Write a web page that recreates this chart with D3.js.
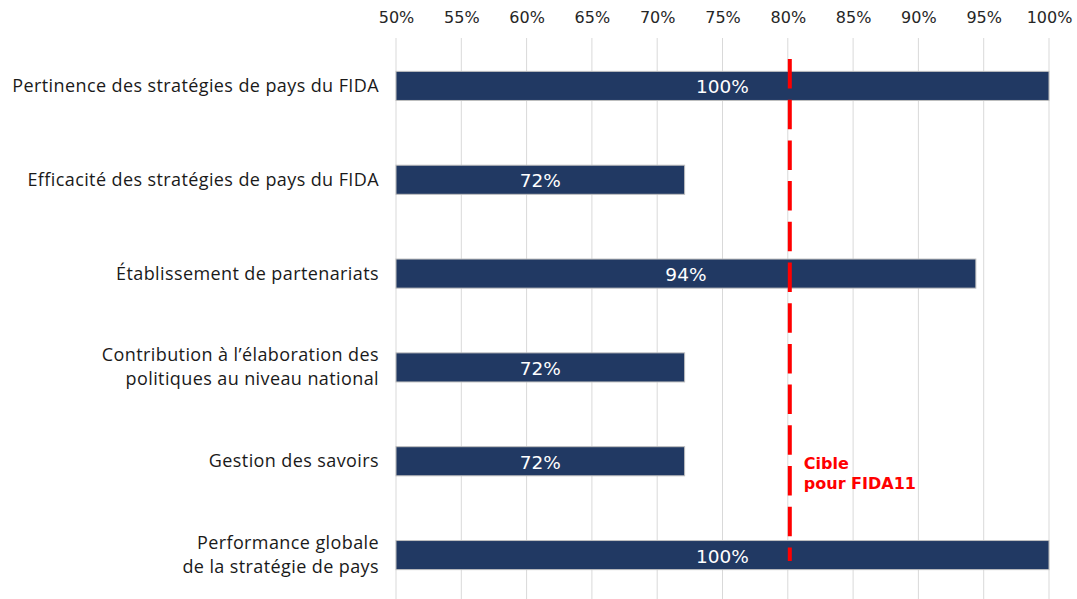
<!DOCTYPE html>
<html>
<head>
<meta charset="utf-8">
<script src="https://cdn.jsdelivr.net/npm/d3@7"></script>
<style>
  body { margin: 0; background: #fff; }
  svg { display: block; }
</style>
</head>
<body>
<svg id="chart"></svg>
<script>
// données
const categories = [
    ["Pertinence des stratégies de pays du FIDA"],
    ["Efficacité des stratégies de pays du FIDA"],
    ["Établissement de partenariats"],
    ["Contribution à l’élaboration des", "politiques au niveau national"],
    ["Gestion des savoirs"],
    ["Performance globale", "de la stratégie de pays"]
]
const values = [1.00, 0.721, 0.944, 0.721, 0.721, 1.00]
const xTicks = [0.5, 0.55, 0.6, 0.65, 0.7, 0.75, 0.8, 0.85, 0.9, 0.95, 1.0]
const target = 0.8
const targetLabel = ["Cible", "pour FIDA11"]

const svgWidth = 1077
const svgHeight = 599
const svg = d3.select("#chart")
    .attr("width", svgWidth)
    .attr("height", svgHeight)

const xScale = d3.scaleLinear()
    .domain([0.5, 1])
    .range([396, 1049])
const yScale = d3.scaleBand()
    .domain(d3.range(categories.length))
    .range([39, 602])
    .paddingInner(0.69)
    .paddingOuter(0.345)

const pct = d3.format(".0%")

// grille verticale
svg.append("g")
    .selectAll("line")
    .data(xTicks)
    .enter()
    .append("line")
    .attr("x1", (d) => xScale(d))
    .attr("x2", (d) => xScale(d))
    .attr("y1", 38)
    .attr("y2", svgHeight)
    .attr("stroke", "#d9d9d9")
    .attr("stroke-width", 1)

// axe du haut
const xAxis = svg.append("g")
    .attr("transform", "translate(0,38)")
    .call(d3.axisTop(xScale).tickValues(xTicks).tickFormat(pct).tickSize(0).tickPadding(15))
xAxis.select(".domain").remove()
xAxis.selectAll("text")
    .attr("font-family", "DejaVu Sans, Verdana, sans-serif")
    .attr("font-size", 16)
    .attr("fill", "#262626")

// barres
svg.append("g")
    .selectAll("rect")
    .data(values)
    .enter()
    .append("rect")
    .attr("x", xScale(0.5))
    .attr("y", (d, i) => yScale(i))
    .attr("width", (d) => xScale(d) - xScale(0.5))
    .attr("height", yScale.bandwidth())
    .attr("fill", "#213963")
    .attr("stroke", "#bfbfbf")
    .attr("stroke-width", 1)

// valeurs dans les barres
svg.append("g")
    .selectAll("text")
    .data(values)
    .enter()
    .append("text")
    .attr("x", (d) => (xScale(0.5) + xScale(d)) / 2)
    .attr("y", (d, i) => yScale(i) + yScale.bandwidth() / 2 + 1)
    .attr("text-anchor", "middle")
    .attr("dominant-baseline", "central")
    .attr("font-family", "DejaVu Sans, Verdana, sans-serif")
    .attr("font-size", 18.5)
    .attr("fill", "#ffffff")
    .text((d) => pct(d))

// libellés des catégories
const labels = svg.append("g")
    .selectAll("text")
    .data(categories)
    .enter()
    .append("text")
    .attr("x", 379)
    .attr("y", (d, i) => yScale(i) + yScale.bandwidth() / 2)
    .attr("text-anchor", "end")
    .attr("font-family", "Open Sans, sans-serif")
    .attr("font-size", 18)
    .attr("letter-spacing", 0.4)
    .attr("fill", "#1a1a1a")
labels.selectAll("tspan")
    .data((d) => d.map((t, k) => ({ t, k, n: d.length })))
    .enter()
    .append("tspan")
    .attr("x", 379)
    .attr("dy", (d) => d.k === 0 ? ((-(d.n - 1) * 24 / 2) + 6) : 24)
    .text((d) => d.t)

// ligne cible
svg.append("line")
    .attr("x1", xScale(target) + 2)
    .attr("x2", xScale(target) + 2)
    .attr("y1", 59)
    .attr("y2", 561)
    .attr("stroke", "#ff0000")
    .attr("stroke-width", 4)
    .attr("stroke-dasharray", "29.5,11.2")

svg.append("g")
    .selectAll("text")
    .data(targetLabel)
    .enter()
    .append("text")
    .attr("x", xScale(target) + 16)
    .attr("y", (d, i) => 469 + i * 20)
    .attr("font-family", "DejaVu Sans, Verdana, sans-serif")
    .attr("font-weight", "bold")
    .attr("font-size", 16)
    .attr("fill", "#ff0000")
    .text((d) => d)
</script>
</body>
</html>
